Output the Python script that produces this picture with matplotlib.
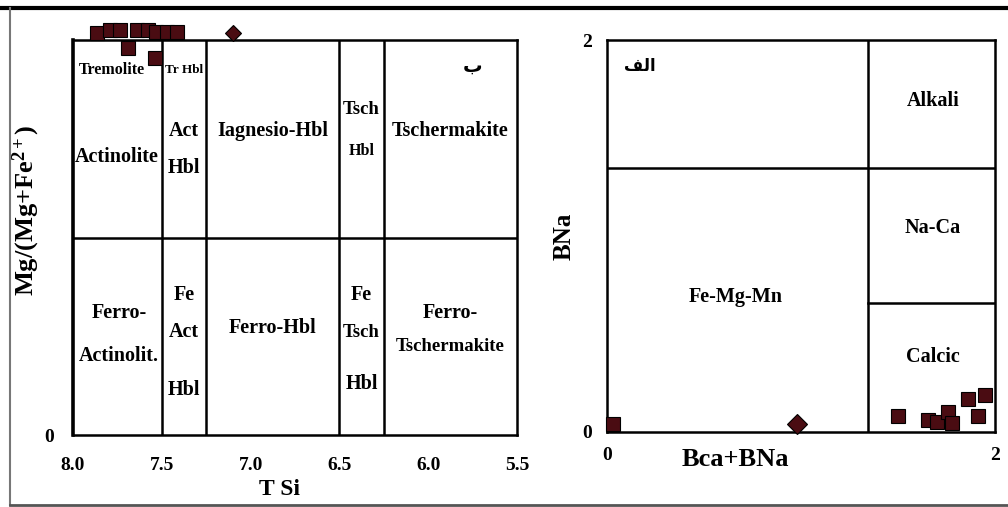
import matplotlib
matplotlib.use("Agg")
import matplotlib.pyplot as plt
from matplotlib.lines import Line2D

plt.rcParams['font.family'] = ['Liberation Serif', 'DejaVu Sans']
plt.rcParams['font.weight'] = 'bold'
plt.rcParams['axes.labelweight'] = 'bold'
plt.rcParams['mathtext.fontset'] = 'custom'
plt.rcParams['mathtext.rm'] = 'Liberation Serif:bold'
plt.rcParams['mathtext.it'] = 'Liberation Serif:bold'
plt.rcParams['mathtext.bf'] = 'Liberation Serif:bold'

# left diagram: T Si vs Mg/(Mg+Fe2+)
tsi_sq = [7.865, 7.79, 7.735, 7.69, 7.64, 7.58, 7.53, 7.54, 7.47, 7.415]
mg_sq = [1.018, 1.025, 1.025, 0.98, 1.025, 1.025, 1.02, 0.955, 1.02, 1.02]
tsi_dia = [7.10]
mg_dia = [1.018]
tsi_ticks = [8.0, 7.5, 7.0, 6.5, 6.0, 5.5]
tsi_bounds = [7.5, 7.25, 6.5, 6.25]

# right diagram: B(Ca+Na) vs BNa
bcana_sq = [0.03, 1.50, 1.655, 1.70, 1.76, 1.78, 1.86, 1.91, 1.95]
bna_sq = [0.04, 0.08, 0.06, 0.05, 0.10, 0.045, 0.17, 0.08, 0.19]
bcana_dia = [0.98]
bna_dia = [0.04]
x_split = 1.345
y_upper = 1.345
y_lower = 0.66

sq_face = '#4a0c12'
W, H = 1008, 507
fig = plt.figure(figsize=(10.08, 5.07), dpi=100)


def px_axes(x0, x1, y0, y1):
    return fig.add_axes([x0 / W, 1 - y1 / H, (x1 - x0) / W, (y1 - y0) / H])


lw = 1.8
ax1 = px_axes(73, 517, 40, 435)
ax1.set_xlim(8.0, 5.5)
ax1.set_ylim(0, 1)
for s in ax1.spines.values():
    s.set_linewidth(lw)
ax1.spines['left'].set_linewidth(2.6)
ax1.axhline(0.5, color='black', lw=lw)
for b in tsi_bounds:
    ax1.axvline(b, color='black', lw=lw)
ax1.set_xticks(tsi_ticks)
ax1.set_xticklabels(['8.0', '7.5', '7.0', '6.5', '6.0', '5.5'])
ax1.set_yticks([0])
ax1.tick_params(length=0, labelsize=14, pad=16)
ax1.tick_params(axis='y', pad=14)
ax1.set_xlabel('T Si', fontsize=17)
ax1.set_ylabel('Mg/(Mg+Fe$^{2+}$)', fontsize=19)
ax1.xaxis.set_label_coords(0.466, -0.112)
ax1.yaxis.set_label_coords(-0.07, 0.57)
ax1.plot(tsi_sq, mg_sq, 's', ms=10.5, mfc=sq_face, mec='black', mew=0.8, clip_on=False, zorder=5)
ax1.plot(tsi_dia, mg_dia, 'D', ms=8, mfc=sq_face, mec='black', mew=0.8, clip_on=False, zorder=5)

lab = dict(ha='center', va='center', fontsize=14.5)
ax1.text(7.78, 0.925, 'Tremolite', fontsize=11.5, ha='center', va='center')
ax1.text(7.375, 0.925, 'Tr Hbl', fontsize=9.5, ha='center', va='center')
ax1.text(7.755, 0.705, 'Actinolite', **lab)
ax1.text(7.375, 0.77, 'Act', **lab)
ax1.text(7.375, 0.675, 'Hbl', **lab)
ax1.text(6.875, 0.77, 'Iagnesio-Hbl', **lab)
ax1.text(6.375, 0.825, 'Tsch', fontsize=13.5, ha='center', va='center')
ax1.text(6.375, 0.72, 'Hbl', fontsize=11.5, ha='center', va='center')
ax1.text(5.875, 0.77, 'Tschermakite', **lab)
ax1.text(5.75, 0.93, '\u0628', fontsize=14, ha='center', va='center')
ax1.text(7.74, 0.31, 'Ferro-', **lab)
ax1.text(7.74, 0.20, 'Actinolit.', **lab)
ax1.text(7.375, 0.355, 'Fe', **lab)
ax1.text(7.375, 0.26, 'Act', **lab)
ax1.text(7.375, 0.115, 'Hbl', **lab)
ax1.text(6.875, 0.27, 'Ferro-Hbl', **lab)
ax1.text(6.375, 0.355, 'Fe', **lab)
ax1.text(6.375, 0.26, 'Tsch', fontsize=13.5, ha='center', va='center')
ax1.text(6.375, 0.13, 'Hbl', **lab)
ax1.text(5.875, 0.31, 'Ferro-', **lab)
ax1.text(5.875, 0.225, 'Tschermakite', fontsize=13.5, ha='center', va='center')

ax2 = px_axes(607, 995, 40, 432)
ax2.set_xlim(0, 2)
ax2.set_ylim(0, 2)
for s in ax2.spines.values():
    s.set_linewidth(lw)
ax2.axvline(x_split, color='black', lw=lw)
ax2.axhline(y_upper, color='black', lw=lw)
ax2.plot([x_split, 2], [y_lower, y_lower], color='black', lw=lw)
ax2.set_xticks([0, 2])
ax2.set_yticks([0, 2])
ax2.tick_params(length=0, labelsize=14, pad=11)
ax2.tick_params(axis='y', pad=11)
ax2.set_xlabel('Bca+BNa', fontsize=19)
ax2.set_ylabel('BNa', fontsize=18)
ax2.xaxis.set_label_coords(0.33, -0.04)
ax2.yaxis.set_label_coords(-0.08, 0.5)
ax2.plot(bcana_sq, bna_sq, 's', ms=10.5, mfc=sq_face, mec='black', mew=0.8, clip_on=False, zorder=5)
ax2.plot(bcana_dia, bna_dia, 'D', ms=10, mfc=sq_face, mec='black', mew=0.8, clip_on=False, zorder=5)
ax2.text(1.68, 1.69, 'Alkali', **lab)
ax2.text(1.68, 1.04, 'Na-Ca', **lab)
ax2.text(1.68, 0.385, 'Calcic', **lab)
ax2.text(0.665, 0.69, 'Fe-Mg-Mn', **lab)
ax2.text(0.17, 1.86, '\uFED2\uFEDF\uFE8D', fontsize=12, ha='center', va='center')

# outer frame of the figure
fig.add_artist(Line2D([0, 1], [1 - 8 / H, 1 - 8 / H], color='black', lw=3))
fig.add_artist(Line2D([10 / W, 10 / W], [1 - 505 / H, 1 - 8 / H], color='#777777', lw=1.5))
fig.add_artist(Line2D([10 / W, 1], [1 - 505 / H, 1 - 505 / H], color='#555555', lw=2))

fig.savefig('out.png', dpi=100)
